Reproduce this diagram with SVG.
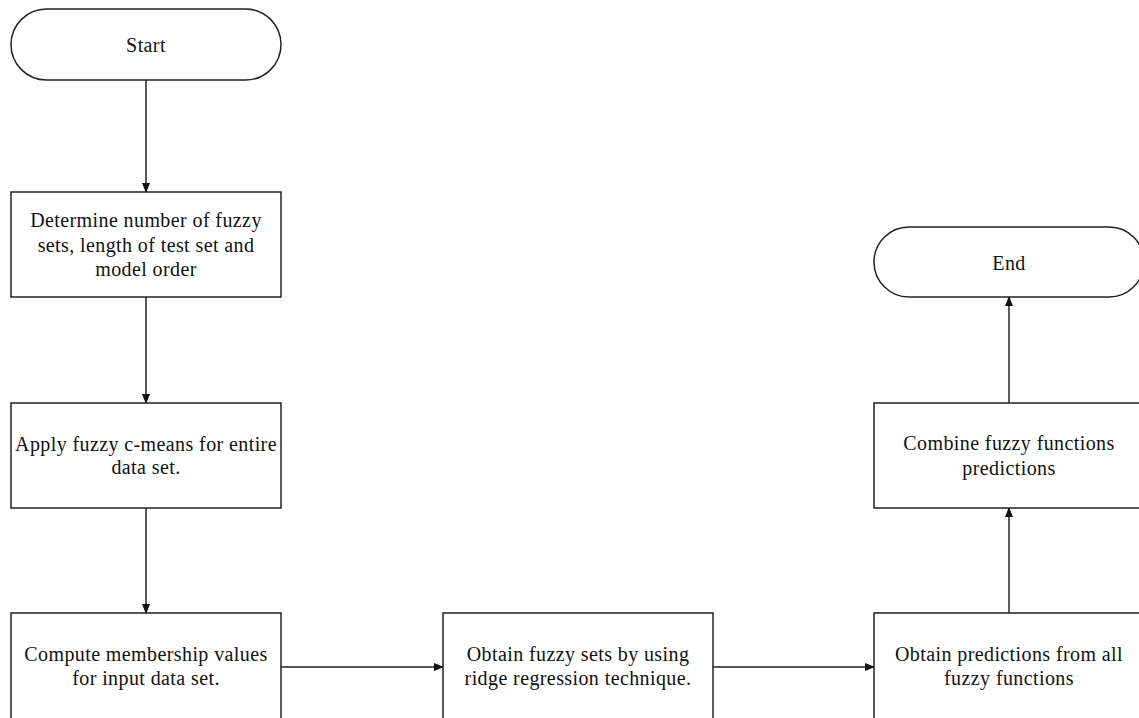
<svg xmlns="http://www.w3.org/2000/svg" width="1139" height="718" viewBox="0 0 1139 718">
<style>
.box{fill:#fff;stroke:#222;stroke-width:1.5}
.lbl{font-family:"Liberation Serif","Times New Roman",serif;font-size:20px;letter-spacing:0.4px;fill:#111;text-anchor:middle}
.conn{stroke:#222;stroke-width:1.5;fill:none;marker-end:url(#ah)}
</style>
<defs>
<marker id="ah" markerWidth="10" markerHeight="8" refX="9" refY="4" orient="auto" markerUnits="userSpaceOnUse">
<path d="M0,0 L10,4 L0,8 Z" fill="#111"/>
</marker>
</defs>
<rect width="1139" height="718" fill="#fff"/>
<g id="connectors">
<line class="conn" x1="146" y1="80" x2="146" y2="192"/>
<line class="conn" x1="146" y1="297" x2="146" y2="403"/>
<line class="conn" x1="146" y1="508" x2="146" y2="613"/>
<line class="conn" x1="281" y1="667" x2="443" y2="667"/>
<line class="conn" x1="713" y1="667" x2="874" y2="667"/>
<line class="conn" x1="1009" y1="613" x2="1009" y2="508"/>
<line class="conn" x1="1009" y1="403" x2="1009" y2="297"/>
</g>
<g id="start">
<rect class="box" x="11" y="9" width="270" height="71" rx="35.5"/>
<text class="lbl" x="146" y="52">Start</text>
</g>
<g id="determine">
<rect class="box" x="11" y="192" width="270" height="105"/>
<text class="lbl" x="146" y="227">Determine number of fuzzy</text>
<text class="lbl" x="146" y="252">sets, length of test set and</text>
<text class="lbl" x="146" y="276">model order</text>
</g>
<g id="apply">
<rect class="box" x="11" y="403" width="270" height="105"/>
<text class="lbl" x="146" y="451">Apply fuzzy c-means for entire</text>
<text class="lbl" x="146" y="474">data set.</text>
</g>
<g id="compute">
<rect class="box" x="11" y="613" width="270" height="115"/>
<text class="lbl" x="146" y="661">Compute membership values</text>
<text class="lbl" x="146" y="685">for input data set.</text>
</g>
<g id="obtain-sets">
<rect class="box" x="443" y="613" width="270" height="115"/>
<text class="lbl" x="578" y="661">Obtain fuzzy sets by using</text>
<text class="lbl" x="578" y="685">ridge regression technique.</text>
</g>
<g id="obtain-predictions">
<rect class="box" x="874" y="613" width="270" height="115"/>
<text class="lbl" x="1009" y="661">Obtain predictions from all</text>
<text class="lbl" x="1009" y="685">fuzzy functions</text>
</g>
<g id="combine">
<rect class="box" x="874" y="403" width="270" height="105"/>
<text class="lbl" x="1009" y="450">Combine fuzzy functions</text>
<text class="lbl" x="1009" y="475">predictions</text>
</g>
<g id="end">
<rect class="box" x="874" y="227" width="270" height="70" rx="35"/>
<text class="lbl" x="1009" y="270">End</text>
</g>
</svg>
